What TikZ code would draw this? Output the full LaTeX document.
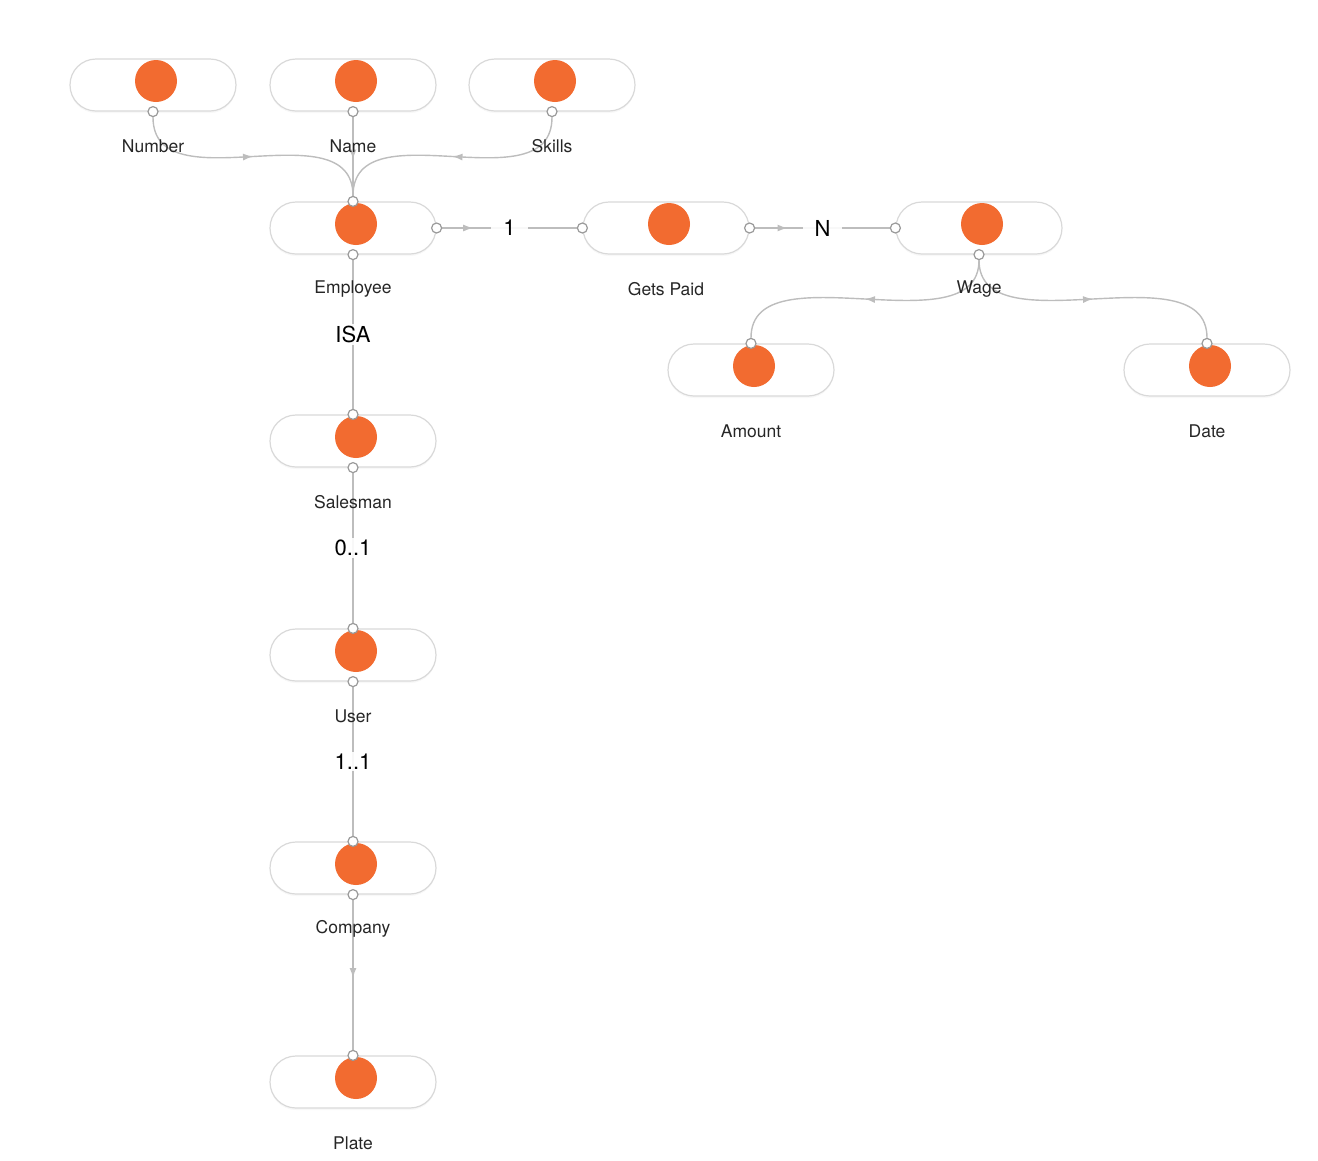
\documentclass[tikz,border=0pt]{standalone}
\usepackage{fontspec}
\setmainfont{TeX Gyre Heros}
\usepackage{tikz}
\usetikzlibrary{arrows.meta,positioning,decorations.markings,shadows}
\usetikzlibrary{backgrounds}

\definecolor{dotorange}{HTML}{F26B30}
\definecolor{pillgray}{HTML}{D9D9D9}
\definecolor{linkgray}{HTML}{BDBDBD}
\definecolor{portgray}{HTML}{9A9A9A}

\tikzset{
    pill/.style={draw=pillgray, line width=1.2pt, fill=white, rounded corners=26pt,
        minimum width=166pt, minimum height=52pt,
        drop shadow={opacity=0.06, shadow xshift=0pt, shadow yshift=-2pt}},
    dot/.style={circle, fill=dotorange, minimum size=42pt, inner sep=0pt},
    port/.style={circle, draw=portgray, fill=white, line width=1.2pt, minimum size=10pt, inner sep=0pt},
    link/.style={draw=linkgray, line width=1.4pt},
    midarrow/.style={postaction={decorate}, decoration={markings,
        mark=at position #1 with {\arrow{Latex[length=10pt,width=7pt]}}}},
    tag/.style={font=\fontsize{17.5}{20}\selectfont, text=black!85},
    card/.style={font=\fontsize{22}{26}\selectfont, fill=white, fill opacity=0.9, text opacity=1,
        inner xsep=12pt, inner ysep=2pt}
}

\begin{document}
\begin{tikzpicture}[x=1pt, y=-1pt]

            \useasboundingbox (0,0) rectangle (1318,1160);

            % entity pills with their dots and names
            \foreach \n/\x/\y/\t in {num/153/85/Number, nam/353/85/Name, ski/552/85/Skills,
                emp/353/228/Employee, gp/666/228/Gets Paid, wag/979/228/Wage,
                amt/751/370/Amount, dat/1207/370/Date, sal/353/441/Salesman,
                usr/353/655/User, com/353/868/Company, pla/353/1082/Plate}
            {
                \node[pill] (\n) at (\x,\y) {};
                \node[dot] (\n-dot) at (\x+3,\y-4) {};
                \node[tag] (\n-tag) at (\x,\y+61) {\t};
            }

            % ports
            \foreach \n/\a in {num/south, nam/south, ski/south, emp/north, emp/south, emp/east,
                gp/west, gp/east, wag/west, wag/south, amt/north, dat/north,
                sal/north, sal/south, usr/north, usr/south, com/north, com/south, pla/north}
            \node[port] (\n-\a) at (\n.\a) {};

            % connectors, behind the names
            \begin{scope}[on background layer]
            \draw[link, midarrow=0.5] (num-south) .. controls +(0,95) and +(0,-95) .. (emp-north);
            \draw[link, midarrow=0.54] (nam-south) -- (emp-north);
            \draw[link, midarrow=0.5] (ski-south) .. controls +(0,95) and +(0,-95) .. (emp-north);
            \draw[link, midarrow=0.23] (emp-east) -- node[card] {1} (gp-west);
            \draw[link, midarrow=0.24] (gp-east) -- node[card] {N} (wag-west);
            \draw[link, midarrow=0.5] (wag-south) .. controls +(0,95) and +(0,-95) .. (amt-north);
            \draw[link, midarrow=0.5] (wag-south) .. controls +(0,95) and +(0,-95) .. (dat-north);
            \draw[link] (emp-south) -- node[card, inner xsep=2pt] {ISA} (sal-north);
            \draw[link] (sal-south) -- node[card, inner xsep=2pt] {0..1} (usr-north);
            \draw[link] (usr-south) -- node[card, inner xsep=2pt] {1..1} (com-north);
            \draw[link, midarrow=0.52] (com-south) -- (pla-north);
            \end{scope}

\end{tikzpicture}
\end{document}
